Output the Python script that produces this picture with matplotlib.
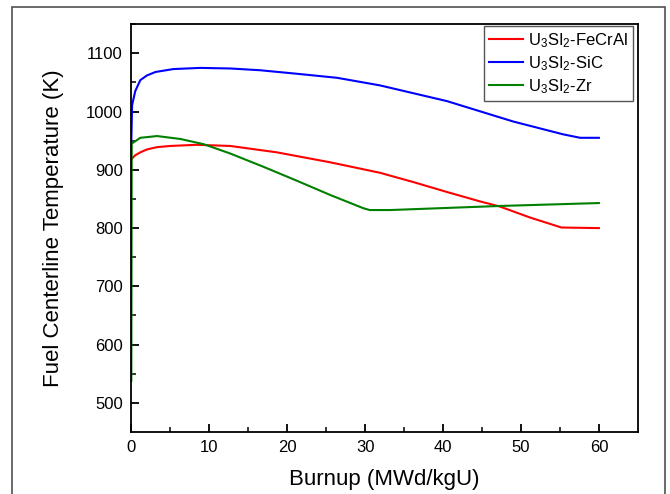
import numpy as np
import matplotlib.pyplot as plt
from matplotlib.patches import Rectangle

plt.rcParams['font.family'] = ['Liberation Sans', 'DejaVu Sans']
plt.rcParams['mathtext.default'] = 'regular'

# fuel centerline temperature vs burnup for the three cladding options
burnup_fecral = [0, 0.5, 1.15, 2, 3.3, 5, 8.4, 12.7, 18.7, 25.5, 31.9, 36.2, 40.5, 44.7, 47.3, 51.2, 55.2, 60]
temp_fecral = [918, 925, 930, 935, 939, 941, 943, 941, 930, 913, 895, 879, 862, 846, 837, 818, 801, 800]

burnup_sic = [0, 0.1, 0.5, 1.15, 2, 3.1, 5.4, 8.85, 12.7, 16.5, 21.2, 26.4, 31.9, 40.5, 49, 55.4, 57.6, 60]
temp_sic = [950, 1011, 1035, 1054, 1062, 1068, 1073, 1075, 1074, 1071, 1065, 1058, 1045, 1018, 983, 961, 955, 955]

burnup_zr = [0, 0.05, 1.15, 3.3, 6.3, 9.3, 12.7, 17, 21.3, 25.5, 29.8, 30.6, 33.2, 47.3, 60]
temp_zr = [538, 945, 955, 958, 953, 944, 928, 905, 881, 857, 834, 831, 831, 838, 843]

labels = [r'U$_3$SI$_2$-FeCrAl', r'U$_3$SI$_2$-SiC', r'U$_3$SI$_2$-Zr']

fig = plt.figure(figsize=(6.7, 4.94), dpi=100)
ax = fig.add_axes([0.196, 0.1255, 0.756, 0.8255])

ax.plot(burnup_fecral, temp_fecral, color='#ff0000', lw=1.5, label=labels[0])
ax.plot(burnup_sic, temp_sic, color='#0000ff', lw=1.5, label=labels[1])
ax.plot(burnup_zr, temp_zr, color='#008000', lw=1.5, label=labels[2])

ax.set_xlim(0, 65)
ax.set_ylim(450, 1150)
ax.set_xticks(np.arange(0, 61, 10))
ax.set_xticks(np.arange(5, 61, 10), minor=True)
ax.set_yticks(np.arange(500, 1101, 100))
ax.set_yticks(np.arange(550, 1151, 100), minor=True)
ax.tick_params(which='major', direction='in', length=6, width=1.3, labelsize=12, pad=6)
ax.tick_params(which='minor', direction='in', length=3.5, width=1.1)
for s in ax.spines.values():
    s.set_linewidth(1.3)

ax.set_xlabel('Burnup (MWd/kgU)', fontsize=16, labelpad=10)
ax.set_ylabel('Fuel Centerline Temperature (K)', fontsize=16, labelpad=16)

leg = ax.legend(loc='upper right', bbox_to_anchor=(0.99, 0.995), fontsize=12,
                fancybox=False, framealpha=1, edgecolor='#555555',
                handlelength=2.0, handletextpad=0.3, labelspacing=0.25,
                borderpad=0.3, borderaxespad=0)
leg.get_frame().set_linewidth(1.0)

# grey border round the whole figure
fig.patches.append(Rectangle((12 / 670, -0.02), 653 / 670, 1.02 - 7 / 494,
                             transform=fig.transFigure, fill=False,
                             edgecolor='#505050', lw=1.2))

fig.savefig('out.png', dpi=100)
